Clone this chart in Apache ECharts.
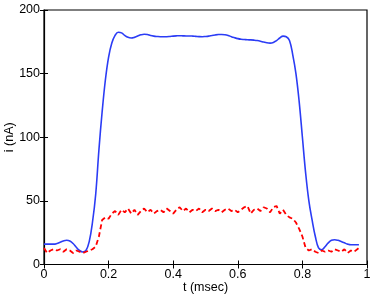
<!DOCTYPE html>
<html>
<head>
<meta charset="utf-8">
<script src="https://cdn.jsdelivr.net/npm/echarts@6/dist/echarts.min.js"></script>
<style>
  html, body { margin: 0; padding: 0; background: #fff; }
  #chart { width: 374px; height: 297px; }
</style>
</head>
<body>
<div id="chart"></div>
<script>
// sample times (msec), one every 0.01
var times = [0, 0.01, 0.02, 0.03, 0.04, 0.05, 0.06, 0.07, 0.08, 0.09,
  0.10, 0.11, 0.12, 0.13, 0.14, 0.15, 0.16, 0.17, 0.18, 0.19,
  0.20, 0.21, 0.22, 0.23, 0.24, 0.25, 0.26, 0.27, 0.28, 0.29,
  0.30, 0.31, 0.32, 0.33, 0.34, 0.35, 0.36, 0.37, 0.38, 0.39,
  0.40, 0.41, 0.42, 0.43, 0.44, 0.45, 0.46, 0.47, 0.48, 0.49,
  0.50, 0.51, 0.52, 0.53, 0.54, 0.55, 0.56, 0.57, 0.58, 0.59,
  0.60, 0.61, 0.62, 0.63, 0.64, 0.65, 0.66, 0.67, 0.68, 0.69,
  0.70, 0.71, 0.72, 0.73, 0.74, 0.75, 0.76, 0.77, 0.78, 0.79,
  0.80, 0.81, 0.82, 0.83, 0.84, 0.85, 0.86, 0.87, 0.88, 0.89,
  0.90, 0.91, 0.92, 0.93, 0.94, 0.95, 0.96, 0.975];

// blue solid trace (nA)
var blueVals = [16, 16, 16, 16, 16.5, 17.5, 18.5, 19, 18.5, 16.5,
  13.5, 11, 9.8, 11, 18, 33, 55, 90, 120, 145,
  163, 174, 180, 182.5, 182, 180, 178.5, 178, 178.5, 179.5,
  180.5, 181, 180.8, 180, 179.5, 179.2, 179, 179, 179, 179.2,
  179.5, 179.7, 179.8, 179.7, 179.6, 179.6, 179.5, 179.3, 179.1, 179,
  179.2, 179.5, 180, 180.4, 180.7, 180.8, 180.6, 180, 179, 178.2,
  177.5, 177, 176.8, 176.6, 176.5, 176.3, 176, 175.5, 174.8, 174.2,
  174, 174.5, 176, 178, 179.5, 179, 176, 165, 150, 128,
  100, 72, 50, 35, 22, 13, 11.5, 14, 17, 19,
  19.5, 19, 18, 17, 16, 15.5, 15.5, 15.5];

// red dashed trace (nA)
var redVals = [13, 9, 11, 12, 11, 12, 10, 12, 11, 9,
  11, 10, 9, 10, 11, 12, 14, 22, 35, 37,
  36, 40, 42, 39, 43, 41, 44, 40, 43, 39,
  42, 44, 41, 43, 40, 42, 43, 41, 44, 42,
  40, 43, 45, 42, 44, 41, 43, 42, 44, 41,
  43, 42, 44, 42, 43, 41, 43, 44, 42, 43,
  41, 43, 45, 46, 40, 43, 44, 42, 45, 44,
  41, 45, 46, 40, 43, 39, 37, 36, 33, 28,
  22, 13, 11, 12, 10, 9, 11, 10, 11, 10,
  12, 11, 10, 12, 9, 11, 10, 13];

var xTicks = [0, 0.2, 0.4, 0.6, 0.8, 1];
var yTicks = [0, 50, 100, 150, 200];

function pairs(xs, ys) {
  var out = [];
  for (var i = 0; i < xs.length; i++) out.push([xs[i], ys[i]]);
  return out;
}

var chart = echarts.init(document.getElementById('chart'));
var font = 'Liberation Sans';

var tickStyle = { show: true, inside: true, length: 4, lineStyle: { color: '#000', width: 1 } };

option = {
  animation: false,
  grid: {
    left: 44, right: 7, top: 10, bottom: 32.5,
    containLabel: false, outerBoundsMode: 'none',
    show: true, borderColor: '#000', borderWidth: 1.2
  },
  xAxis: [
    {
      type: 'value', min: xTicks[0], max: xTicks[xTicks.length - 1], interval: 0.2,
      name: 't (msec)', nameLocation: 'middle', nameGap: 17, nameMoveOverlap: false,
      nameTextStyle: { fontFamily: font, fontSize: 12.5, color: '#000' },
      axisLine: { show: true, lineStyle: { color: '#000', width: 1.2 } },
      axisTick: tickStyle,
      axisLabel: { fontFamily: font, fontSize: 12.5, color: '#000', margin: 4 },
      splitLine: { show: false }
    },
    {
      type: 'value', position: 'top', min: 0, max: 1, interval: 0.2,
      axisLine: { show: false }, axisTick: tickStyle,
      axisLabel: { show: false }, splitLine: { show: false }
    }
  ],
  yAxis: [
    {
      type: 'value', min: yTicks[0], max: yTicks[yTicks.length - 1], interval: 50,
      name: 'i (nA)', nameLocation: 'middle', nameGap: 28, nameMoveOverlap: false,
      nameTextStyle: { fontFamily: font, fontSize: 12.5, color: '#000' },
      axisLine: { show: true, lineStyle: { color: '#000', width: 1.2 } },
      axisTick: tickStyle,
      axisLabel: { fontFamily: font, fontSize: 12.5, color: '#000', margin: 4 },
      splitLine: { show: false }
    },
    {
      type: 'value', position: 'right', min: 0, max: 200, interval: 50,
      axisLine: { show: false }, axisTick: tickStyle,
      axisLabel: { show: false }, splitLine: { show: false }
    }
  ],
  series: [
    {
      name: 'blue', type: 'line', data: pairs(times, blueVals),
      smooth: 0.4, showSymbol: false,
      lineStyle: { color: '#2b3cf5', width: 1.6 }
    },
    {
      name: 'red', type: 'line', data: pairs(times, redVals),
      showSymbol: false,
      lineStyle: { color: '#ff0000', width: 1.8, type: [5, 3] }
    }
  ]
};

chart.setOption(option);
</script>
</body>
</html>
